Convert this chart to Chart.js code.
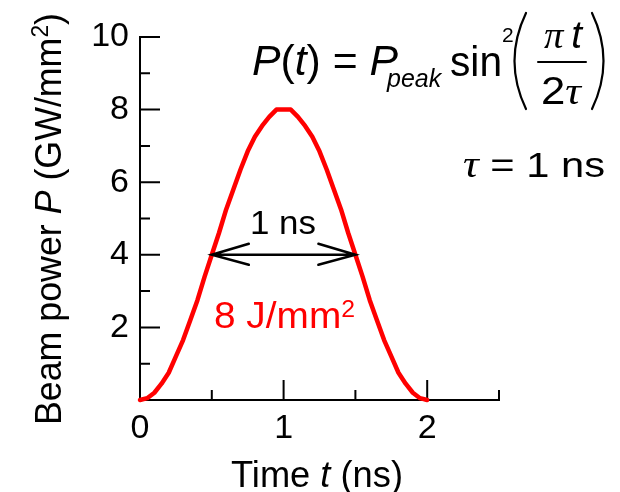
<!DOCTYPE html>
<html>
<head>
<meta charset="utf-8">
<script src="https://cdn.jsdelivr.net/npm/chart.js@4.4.1/dist/chart.umd.min.js"></script>
<style>
  html, body { margin: 0; padding: 0; background: #fff; }
  #wrap { width: 620px; height: 492px; }
</style>
</head>
<body>
<div id="wrap"><canvas id="c" width="620" height="492"></canvas></div>
<script>
// Pulse shape: beam power (GW/mm^2) versus time (ns)
const timeNs = [0, 0.05, 0.1, 0.15, 0.2, 0.25, 0.3, 0.35, 0.4, 0.45, 0.5,
                0.55, 0.6, 0.65, 0.7, 0.75, 0.8, 0.85, 0.9, 0.95, 1.0,
                1.05, 1.1, 1.15, 1.2, 1.25, 1.3, 1.35, 1.4, 1.45, 1.5,
                1.55, 1.6, 1.65, 1.7, 1.75, 1.8, 1.85, 1.9, 1.95, 2.0];
const powerGW = [0, 0.05, 0.2, 0.45, 0.75, 1.2, 1.65, 2.2, 2.75, 3.4, 4.0,
                 4.6, 5.25, 5.8, 6.35, 6.85, 7.25, 7.55, 7.8, 8.0, 8.0,
                 8.0, 7.8, 7.55, 7.25, 6.85, 6.35, 5.8, 5.25, 4.6, 4.0,
                 3.4, 2.75, 2.2, 1.65, 1.2, 0.75, 0.45, 0.2, 0.05, 0];

// Axis ranges and tick values
const xRange = [0, 2.5];
const yRange = [0, 10];
const xTickLabels = [0, 1, 2];
const yTickLabels = [2, 4, 6, 8, 10];
const xMajorTicks = [1, 2];
const xMinorTicks = [0.5, 1.5, 2.5];
const yMajorTicks = [2, 4, 6, 8, 10];
const yMinorTicks = [1, 3, 5, 7, 9];

// Full width at half maximum marker
const fwhmStart = 0.5;
const fwhmEnd = 1.5;
const halfLevel = 4;

const SANS = '"Liberation Sans", Arial, sans-serif';
const SERIF = '"Liberation Serif", "Times New Roman", serif';

function runsWidth(ctx, runs) {
  let w = 0;
  runs.forEach(r => { ctx.font = r.font; w += ctx.measureText(r.text).width; });
  return w;
}

// Draw a row of differently styled text pieces, optionally stretched to a width
function drawRuns(ctx, runs, x, y, targetW) {
  const w = runsWidth(ctx, runs);
  const sx = targetW ? targetW / w : 1;
  ctx.save();
  ctx.translate(x, y);
  ctx.scale(sx, 1);
  ctx.textBaseline = 'alphabetic';
  ctx.textAlign = 'left';
  let cx = 0;
  runs.forEach(r => {
    ctx.font = r.font;
    ctx.fillStyle = r.color || '#000';
    ctx.fillText(r.text, cx, r.dy || 0);
    cx += ctx.measureText(r.text).width;
  });
  ctx.restore();
}

const inwardTicks = {
  id: 'inwardTicks',
  beforeDatasetsDraw(chart) {
    const ctx = chart.ctx;
    const xs = chart.scales.x, ys = chart.scales.y;
    const left = chart.chartArea.left, bottom = chart.chartArea.bottom;
    ctx.save();
    ctx.strokeStyle = '#000';
    ctx.lineWidth = 2;
    ctx.beginPath();
    yMajorTicks.forEach(v => { const p = ys.getPixelForValue(v); ctx.moveTo(left, p); ctx.lineTo(left + 20, p); });
    yMinorTicks.forEach(v => { const p = ys.getPixelForValue(v); ctx.moveTo(left, p); ctx.lineTo(left + 10, p); });
    xMajorTicks.forEach(v => { const p = xs.getPixelForValue(v); ctx.moveTo(p, bottom); ctx.lineTo(p, bottom - 20); });
    xMinorTicks.forEach(v => { const p = xs.getPixelForValue(v); ctx.moveTo(p, bottom); ctx.lineTo(p, bottom - 10); });
    ctx.stroke();
    ctx.restore();
  }
};

const annotations = {
  id: 'annotations',
  afterDraw(chart) {
    const ctx = chart.ctx;
    const xs = chart.scales.x, ys = chart.scales.y;
    ctx.save();

    // FWHM double arrow
    const x1 = xs.getPixelForValue(fwhmStart);
    const x2 = xs.getPixelForValue(fwhmEnd);
    const yh = ys.getPixelForValue(halfLevel);
    ctx.strokeStyle = '#000';
    ctx.lineWidth = 2.5;
    ctx.lineCap = 'round';
    ctx.beginPath();
    ctx.moveTo(x1, yh); ctx.lineTo(x2, yh);
    ctx.moveTo(x1 + 37, yh - 11); ctx.lineTo(x1, yh); ctx.lineTo(x1 + 37, yh + 10);
    ctx.moveTo(x2 - 37, yh - 11); ctx.lineTo(x2, yh); ctx.lineTo(x2 - 37, yh + 10);
    ctx.stroke();

    // width label above the arrow
    drawRuns(ctx, [{ text: '1 ns', font: '33px ' + SANS }], 250, 234, 66);

    // fluence label
    drawRuns(ctx, [
      { text: '8 J/mm', font: '36px ' + SANS, color: '#ff0000' },
      { text: '2', font: '23px ' + SANS, color: '#ff0000', dy: -11 }
    ], 214, 328, 141);

    // pulse formula
    drawRuns(ctx, [
      { text: 'P', font: 'italic 42px ' + SANS },
      { text: '(', font: '42px ' + SANS },
      { text: 't', font: 'italic 42px ' + SANS },
      { text: ')', font: '42px ' + SANS },
      { text: ' = ', font: '42px ' + SANS },
      { text: 'P', font: 'italic 42px ' + SANS }
    ], 252, 75, 146);
    drawRuns(ctx, [{ text: 'peak', font: 'italic 25px ' + SANS }], 387, 87);
    drawRuns(ctx, [{ text: 'sin', font: '42px ' + SANS }], 450, 76, 52);
    drawRuns(ctx, [{ text: '2', font: '21px ' + SANS }], 502, 42);

    ctx.lineWidth = 2.2;
    ctx.beginPath();
    ctx.moveTo(526, 13);
    ctx.quadraticCurveTo(503, 61, 526, 109);
    ctx.moveTo(592, 13);
    ctx.quadraticCurveTo(615, 61, 592, 109);
    ctx.stroke();

    drawRuns(ctx, [
      { text: '\u03C0', font: 'italic 38px ' + SERIF },
      { text: '\u2009', font: '38px ' + SANS },
      { text: 't', font: 'italic 38px ' + SANS }
    ], 544, 48, 38);
    ctx.lineWidth = 2;
    ctx.beginPath();
    ctx.moveTo(538, 62); ctx.lineTo(586, 62);
    ctx.stroke();
    drawRuns(ctx, [
      { text: '2', font: '38px ' + SANS },
      { text: '\u03C4', font: 'italic 38px ' + SERIF }
    ], 541, 104, 40);

    // pulse duration
    drawRuns(ctx, [
      { text: '\u03C4', font: 'italic 37px ' + SERIF },
      { text: ' = 1 ns', font: '35px ' + SANS }
    ], 463, 177, 142);

    // x axis title
    drawRuns(ctx, [
      { text: 'Time ', font: '36px ' + SANS },
      { text: 't', font: 'italic 36px ' + SANS },
      { text: ' (ns)', font: '36px ' + SANS }
    ], 231, 487, 172);

    // y axis title (rotated)
    ctx.translate(61, 425);
    ctx.rotate(-Math.PI / 2);
    drawRuns(ctx, [
      { text: 'Beam power ', font: '36px ' + SANS },
      { text: 'P', font: 'italic 36px ' + SANS },
      { text: ' (GW/mm', font: '36px ' + SANS },
      { text: '2', font: '23px ' + SANS, dy: -13 },
      { text: ')', font: '36px ' + SANS }
    ], 0, 0, 412);

    ctx.restore();
  }
};

new Chart(document.getElementById('c'), {
  type: 'line',
  data: {
    labels: timeNs,
    datasets: [{
      data: timeNs.map((t, i) => ({ x: t, y: powerGW[i] })),
      borderColor: '#ff0000',
      borderWidth: 4.5,
      borderCapStyle: 'round',
      borderJoinStyle: 'round',
      pointRadius: 0,
      tension: 0,
      fill: false,
      clip: false
    }]
  },
  options: {
    responsive: false,
    animation: false,
    devicePixelRatio: 1,
    layout: { padding: { top: 37, right: 121, left: 0, bottom: 0 } },
    plugins: { legend: { display: false }, tooltip: { enabled: false } },
    scales: {
      x: {
        type: 'linear',
        min: xRange[0], max: xRange[1],
        afterBuildTicks: s => { s.ticks = xTickLabels.map(v => ({ value: v })); },
        afterFit: s => { s.height = 92; },
        grid: { display: false, drawTicks: false },
        border: { display: true, color: '#000', width: 2 },
        ticks: { color: '#000', font: { family: SANS, size: 34 }, padding: 8, maxRotation: 0,
                 callback: v => String(v) }
      },
      y: {
        type: 'linear',
        min: yRange[0], max: yRange[1],
        afterBuildTicks: s => { s.ticks = yTickLabels.map(v => ({ value: v })); },
        afterFit: s => { s.width = 140; },
        grid: { display: false, drawTicks: false },
        border: { display: true, color: '#000', width: 2 },
        ticks: { color: '#000', font: { family: SANS, size: 34 }, padding: 11,
                 callback: v => String(v) }
      }
    }
  },
  plugins: [inwardTicks, annotations]
});
</script>
</body>
</html>
